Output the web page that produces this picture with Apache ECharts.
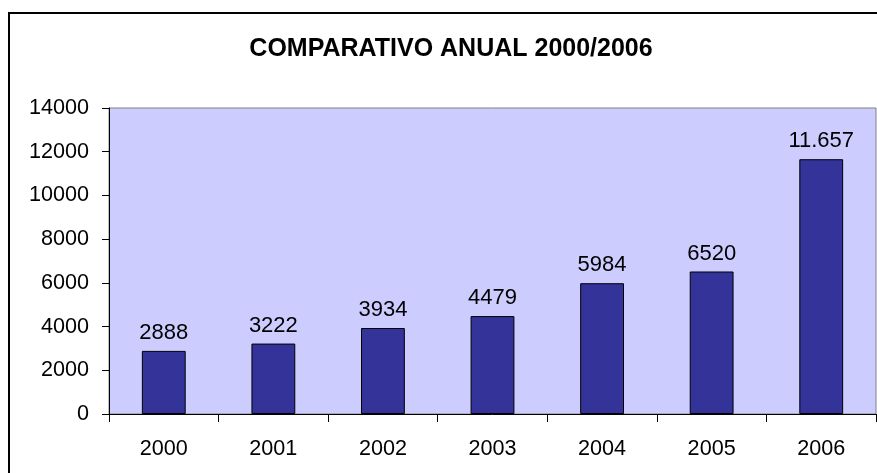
<!DOCTYPE html>
<html>
<head>
<meta charset="utf-8">
<script src="https://cdn.jsdelivr.net/npm/echarts@6/dist/echarts.min.js"></script>
<style>
  html, body { margin: 0; padding: 0; background: #ffffff; }
  #chart { width: 877px; height: 473px; }
</style>
</head>
<body>
<div id="chart"></div>
<script>
// Annual totals, 2000 to 2006
const years = ['2000', '2001', '2002', '2003', '2004', '2005', '2006'];
const totals = [2888, 3222, 3934, 4479, 5984, 6520, 11657];
const valueLabels = ['2888', '3222', '3934', '4479', '5984', '6520', '11.657'];
const yTicks = [0, 2000, 4000, 6000, 8000, 10000, 12000, 14000];

const FONT = '"Liberation Sans", Arial, sans-serif';

const chart = echarts.init(document.getElementById('chart'), null, { renderer: 'canvas' });

chart.setOption({
  animation: false,
  backgroundColor: '#ffffff',
  textStyle: { fontFamily: FONT },
  title: {
    text: 'COMPARATIVO ANUAL 2000/2006',
    left: 446,
    textAlign: 'center',
    top: 32,
    textStyle: { fontFamily: FONT, fontWeight: 'bold', fontSize: 25, color: '#000000' }
  },
  graphic: [{
    type: 'rect',
    shape: { x: 9, y: 13, width: 880, height: 480 },
    style: { fill: null, stroke: '#000000', lineWidth: 2 },
    silent: true,
    z: 10
  }],
  grid: {
    left: 109, top: 108, width: 767, height: 306,
    show: true,
    backgroundColor: '#CCCCFF',
    borderColor: '#808080',
    borderWidth: 1
  },
  xAxis: {
    type: 'category',
    data: years,
    axisLine: { show: true, lineStyle: { color: '#000000', width: 1 } },
    axisTick: { show: true, alignWithLabel: false, length: 8, lineStyle: { color: '#000000' } },
    axisLabel: { color: '#000000', fontSize: 21.6, fontFamily: FONT, margin: 24 },
    splitLine: { show: false }
  },
  yAxis: {
    type: 'value',
    min: yTicks[0],
    max: yTicks[yTicks.length - 1],
    interval: yTicks[1] - yTicks[0],
    axisLine: { show: true, lineStyle: { color: '#000000', width: 1 } },
    axisTick: { show: true, length: 7, lineStyle: { color: '#000000' } },
    axisLabel: { color: '#000000', fontSize: 21.6, fontFamily: FONT, margin: 20, formatter: v => String(v) },
    splitLine: { show: false }
  },
  series: [{
    type: 'bar',
    data: totals,
    barWidth: '40%',
    itemStyle: { color: '#333399', borderColor: '#000000', borderWidth: 1 },
    label: {
      show: true,
      position: 'top',
      distance: 7,
      color: '#000000',
      fontSize: 22,
      fontFamily: FONT,
      formatter: p => valueLabels[p.dataIndex]
    }
  }]
});
</script>
</body>
</html>
